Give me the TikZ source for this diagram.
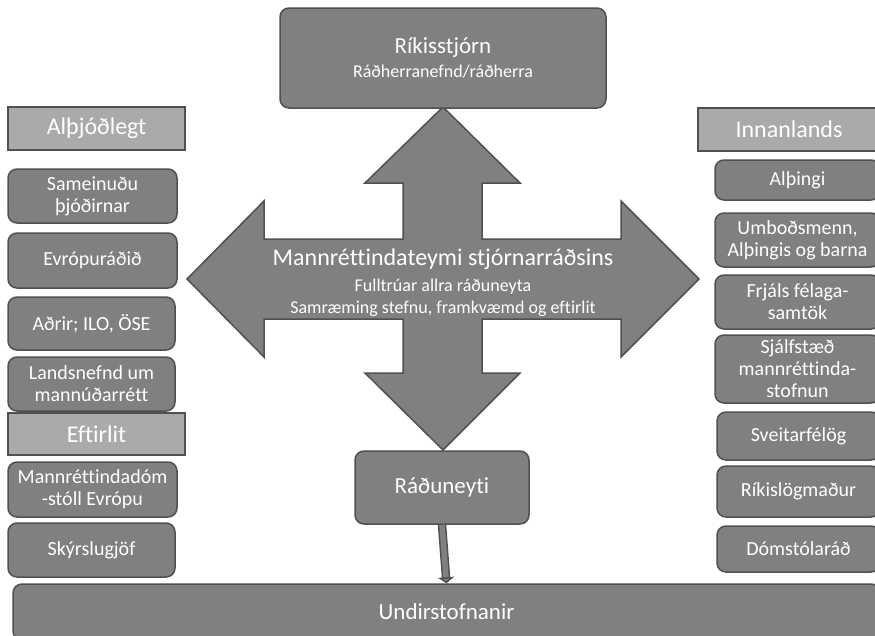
\documentclass[tikz,border=0pt]{standalone}
\usepackage{fontspec}
\setmainfont[Ligatures=NoCommon]{Carlito}
\usetikzlibrary{arrows.meta}

\definecolor{boxfill}{RGB}{128,128,131}
\definecolor{boxline}{RGB}{80,80,82}
\definecolor{headfill}{RGB}{170,170,172}

\tikzset{
  box/.style={draw=boxline, fill=boxfill, line width=1.5pt, rounded corners=9pt,
    text=white, align=center, inner sep=0pt, font=\fontsize{20}{22}\selectfont},
  headbox/.style={draw=boxline, fill=headfill, line width=1.5pt,
    text=white, inner sep=0pt, font=\fontsize{24}{26}\selectfont},
}

\begin{document}
\begin{tikzpicture}[x=1pt,y=-1pt]
\useasboundingbox (0,0) rectangle (875,635);

% Kross
\draw[boxline, fill=boxfill, line width=1.5pt]
  (443,107) -- (520,183) -- (482,183) -- (482,239) -- (621,239) -- (621,201)
  -- (699,279) -- (621,357) -- (621,319) -- (482,319) -- (482,373) -- (520,373)
  -- (443,450) -- (365,373) -- (403,373) -- (403,319) -- (264,319) -- (264,357)
  -- (187,279) -- (264,201) -- (264,239) -- (403,239) -- (403,183) -- (365,183) -- cycle;
\node[text=white, align=center, font=\fontsize{18}{22}\selectfont] (teymi) at (443,283)
  {{\fontsize{24}{26}\selectfont Mannréttindateymi stjórnarráðsins}\\[4pt]
   Fulltrúar allra ráðuneyta\\
   Samræming stefnu, framkvæmd og eftirlit};

% Miðja
\node[box, minimum width=326pt, minimum height=100pt, font=\fontsize{18}{24}\selectfont] (rikis) at (443,58)
  {{\fontsize{23}{26}\selectfont Ríkisstjórn}\\Ráðherranefnd/ráðherra};
\node[box, minimum width=174pt, minimum height=73pt, font=\fontsize{23}{24}\selectfont] (radun) at (442,487.5) {Ráðuneyti};
\node[box, minimum width=867pt, minimum height=56pt, font=\fontsize{23}{24}\selectfont] (undir) at (446.5,612) {Undirstofnanir};

\draw[boxline, line width=1.5pt, double=boxfill, double distance=5.5pt,
  -{Triangle[length=6pt, width=16pt, fill=boxfill]}] (radun.south) -- (undir.north);

% Vinstri dálkur
\node[headbox, minimum width=177pt, minimum height=43pt] (althj) at (96.5,128.5) {Alþjóðlegt};
\node[box, minimum width=169pt, minimum height=54pt] (sam) at (92.5,196) {Sameinuðu\\þjóðirnar};
\node[box, minimum width=169pt, minimum height=55pt] (evr) at (92.5,260.5) {Evrópuráðið};
\node[box, minimum width=167pt, minimum height=53pt] (adrir) at (91.5,323.5) {Aðrir; ILO, ÖSE};
\node[box, minimum width=167pt, minimum height=54pt] (lands) at (91.5,384) {Landsnefnd um\\mannúðarrétt};
\node[headbox, minimum width=177pt, minimum height=42pt] (eftir) at (96.5,434) {Eftirlit};
\node[box, minimum width=169pt, minimum height=55pt] (mdom) at (92.5,489.5) {Mannréttindadóm\\-stóll Evrópu};
\node[box, minimum width=167pt, minimum height=54pt] (skyrsl) at (91.5,550) {Skýrslugjöf};

% Hægri dálkur
\node[headbox, minimum width=182pt, minimum height=43pt] (innan) at (789,129.5) {Innanlands};
\node[box, minimum width=165pt, minimum height=40pt] (althing) at (797.5,180) {Alþingi};
\node[box, minimum width=165pt, minimum height=54pt] (umbod) at (797.5,240) {Umboðsmenn,\\Alþingis og barna};
\node[box, minimum width=165pt, minimum height=54pt] (frjals) at (797.5,302) {Frjáls félaga-\\samtök};
\node[box, minimum width=165pt, minimum height=68pt] (sjalf) at (797.5,369) {Sjálfstæð\\mannréttinda-\\stofnun};
\node[box, minimum width=163pt, minimum height=48pt] (sveit) at (798.5,436) {Sveitarfélög};
\node[box, minimum width=163pt, minimum height=51pt] (rikisl) at (798.5,491.5) {Ríkislögmaður};
\node[box, minimum width=163pt, minimum height=46pt] (domst) at (798.5,549) {Dómstólaráð};
\end{tikzpicture}
\end{document}
